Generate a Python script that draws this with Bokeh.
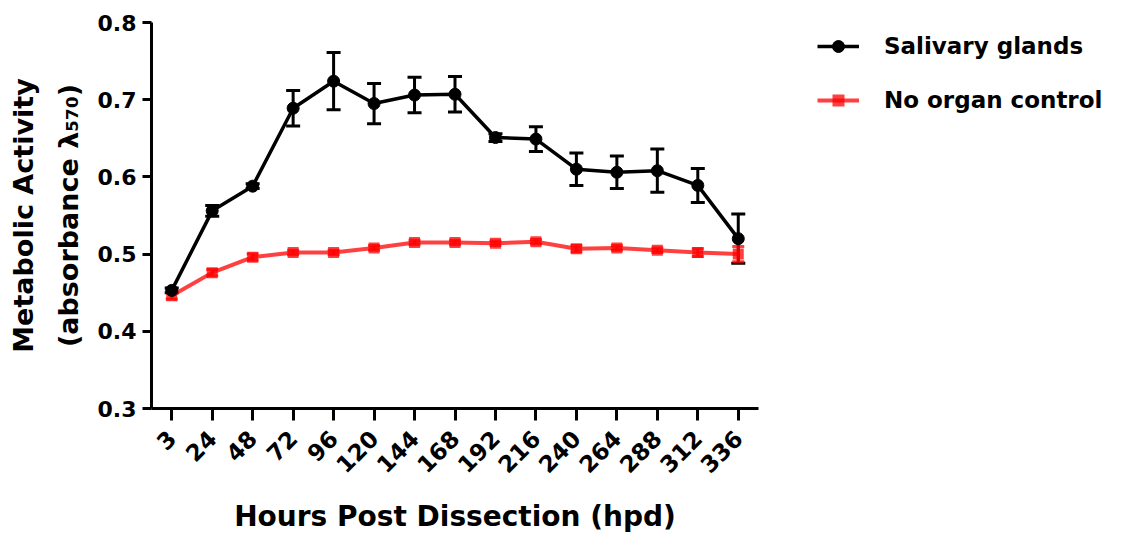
import math
from bokeh.plotting import figure
from bokeh.layouts import row
from bokeh.models import (ColumnDataSource, Whisker, TeeHead, Legend, LegendItem,
                          Title, Range1d, FactorRange, PrintfTickFormatter)
from bokeh.embed import file_html
from bokeh.resources import INLINE

# ---------------- data ----------------
hours = ["3", "24", "48", "72", "96", "120", "144", "168", "192", "216",
         "240", "264", "288", "312", "336"]
sg_mean = [0.453, 0.556, 0.588, 0.689, 0.724, 0.695, 0.706, 0.707, 0.651,
           0.649, 0.610, 0.606, 0.608, 0.589, 0.520]
sg_err = [0.003, 0.007, 0.003, 0.023, 0.037, 0.026, 0.023, 0.023, 0.005,
          0.016, 0.021, 0.021, 0.028, 0.022, 0.032]
nc_mean = [0.446, 0.476, 0.496, 0.502, 0.502, 0.508, 0.515, 0.515, 0.514,
           0.516, 0.507, 0.508, 0.505, 0.502, 0.500]
nc_err = [0.004, 0.004, 0.004, 0.003, 0.003, 0.003, 0.003, 0.003, 0.003,
          0.003, 0.004, 0.003, 0.003, 0.005, 0.010]
y_ticks = [0.3, 0.4, 0.5, 0.6, 0.7, 0.8]

series_names = ["Salivary glands", "No organ control"]
x_title = "Hours Post Dissection (hpd)"
y_title_1 = "Metabolic Activity"
y_title_2 = "(absorbance \u03bb\u2085\u2087\u2080)"

# ---------------- layout ----------------
FL, FT, FW, FH, FB, FR = 151, 22, 607, 386, 127, 5
H = 535
LEG_W = 1125 - (FL + FW + FR)
LEG_MARGIN = 9
FONT = "DejaVu Sans"
RED = "#ff0000"

p = figure(frame_width=FW, frame_height=FH,
           x_range=FactorRange(factors=hours, range_padding=0),
           y_range=Range1d(0.3, 0.8),
           output_backend="svg", toolbar_location=None,
           min_border_left=FL, min_border_top=FT,
           min_border_right=FR, min_border_bottom=FB)
p.outline_line_color = None
p.xgrid.visible = False
p.ygrid.visible = False
p.background_fill_color = "white"
p.border_fill_color = "white"

for ax in (p.xaxis[0], p.yaxis[0]):
    ax.axis_line_width = 3
    ax.axis_line_color = "black"
    ax.major_tick_line_width = 3
    ax.major_tick_line_color = "black"
    ax.major_tick_in = 0
    ax.minor_tick_line_color = None
    ax.major_label_text_font = FONT
    ax.major_label_text_font_style = "bold"
    ax.major_label_text_font_size = "22px"
    ax.major_label_text_color = "black"
    ax.axis_label_text_font = FONT
    ax.axis_label_text_font_style = "bold"
    ax.axis_label_text_color = "black"

p.yaxis.ticker = y_ticks
p.yaxis.formatter = PrintfTickFormatter(format="%.1f")
p.yaxis.major_tick_out = 9
p.yaxis.major_label_standoff = 6

p.xaxis.major_tick_out = 12
p.xaxis.major_label_standoff = 14
p.xaxis.major_label_text_font_size = "23px"
p.xaxis.major_label_orientation = math.pi / 4
p.xaxis.axis_label = x_title
p.xaxis.axis_label_text_font_size = "28px"
p.xaxis.axis_label_standoff = 17

src_sg = ColumnDataSource(dict(
    x=hours, y=sg_mean,
    upper=[m + e for m, e in zip(sg_mean, sg_err)],
    lower=[m - e for m, e in zip(sg_mean, sg_err)]))
src_nc = ColumnDataSource(dict(
    x=hours, y=nc_mean,
    upper=[m + e for m, e in zip(nc_mean, nc_err)],
    lower=[m - e for m, e in zip(nc_mean, nc_err)]))

# black error bars (beneath red)
p.add_layout(Whisker(base="x", upper="upper", lower="lower", source=src_sg,
                     line_width=3, line_color="black",
                     upper_head=TeeHead(size=14, line_width=3, line_color="black"),
                     lower_head=TeeHead(size=14, line_width=3, line_color="black")))

# red series
p.line("x", "y", source=src_nc, line_width=4, line_color=RED, line_alpha=0.75)
p.scatter("x", "y", source=src_nc, marker="square", size=11,
          fill_color=RED, fill_alpha=0.75, line_color=None)
p.add_layout(Whisker(base="x", upper="upper", lower="lower", source=src_nc,
                     line_width=3, line_color=RED, line_alpha=0.75,
                     upper_head=TeeHead(size=12, line_width=3, line_color=RED, line_alpha=0.75),
                     lower_head=TeeHead(size=12, line_width=3, line_color=RED, line_alpha=0.75)))

# black series
p.line("x", "y", source=src_sg, line_width=3.5, line_color="black")
p.scatter("x", "y", source=src_sg, marker="circle", size=12,
          fill_color="black", line_color="black")

# y title: two lines as left-side titles (nearest first)
t2 = Title(text=y_title_2, align="center", text_font=FONT, text_font_style="bold",
           text_font_size="27px", text_color="black", standoff=21)
t1 = Title(text=y_title_1, align="center", text_font=FONT, text_font_style="bold",
           text_font_size="27px", text_color="black", standoff=4)
p.add_layout(t2, "left")
p.add_layout(t1, "left")

# ---------------- legend panel (separate figure) ----------------
lg = figure(width=LEG_W, height=H, output_backend="svg", toolbar_location=None,
            x_range=Range1d(0, 1), y_range=Range1d(0, 1),
            min_border_left=817 - (FL + FW + FR) - LEG_MARGIN, min_border_right=0,
            min_border_top=FT, min_border_bottom=FB)
lg.outline_line_color = None
lg.axis.visible = False
lg.grid.visible = False
# legend-only proxies, placed outside the visible range
proxy_sg = ColumnDataSource(dict(x=[-10], y=[-10]))
proxy_nc = ColumnDataSource(dict(x=[-10], y=[-10]))
k1 = lg.line("x", "y", source=proxy_sg, line_width=3.5, line_color="black")
m1 = lg.scatter("x", "y", source=proxy_sg, marker="circle", size=12,
                fill_color="black", line_color="black")
k2 = lg.line("x", "y", source=proxy_nc, line_width=4, line_color=RED, line_alpha=0.75)
m2 = lg.scatter("x", "y", source=proxy_nc, marker="square", size=11,
                fill_color=RED, fill_alpha=0.75, line_color=None)

legend = Legend(items=[LegendItem(label=series_names[0], renderers=[k1, m1]),
                       LegendItem(label=series_names[1], renderers=[k2, m2])],
                location="top_left",
                glyph_width=42, glyph_height=30,
                label_height=30, spacing=24, label_standoff=25,
                padding=0, margin=LEG_MARGIN, border_line_color=None,
                background_fill_alpha=0,
                label_text_font=FONT, label_text_font_style="bold",
                label_text_font_size="23px", label_text_color="black")
lg.add_layout(legend)

layout = row(p, lg, spacing=0)
open("out.html", "w").write(file_html(layout, INLINE))
